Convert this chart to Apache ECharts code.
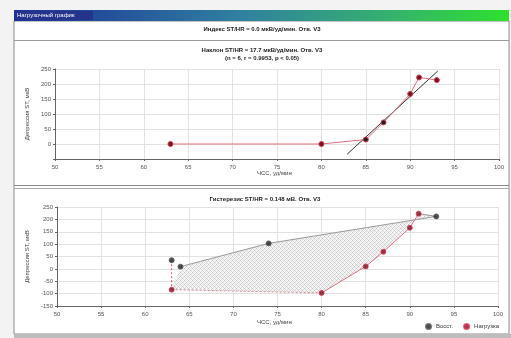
<!DOCTYPE html>
<html>
<head>
<meta charset="utf-8">
<script src="https://cdn.jsdelivr.net/npm/echarts@6/dist/echarts.min.js"></script>
<style>
html,body{margin:0;padding:0;background:#f3f3f3}
#c{width:511px;height:338px}
</style>
</head>
<body>
<div id="c"></div>
<script>
// верхний график - наклон ST/HR
var hrTop = [63, 80, 85, 87, 90, 91, 93];
var stTop = [0, 0, 15, 72, 167, 222, 213];
var phaseTop = [1, 1, 0, 0, 1, 1, 1]; // 1 - нагрузка, 0 - тёмная точка
var regHr = [82.9, 93.1];
var regSt = [-34, 243];

// нижний график - гистерезис
var hrLoad = [63, 80, 85, 87, 90, 91];
var stLoad = [-84, -97, 10, 69, 166, 223];
var hrRec = [93, 74, 64, 63];
var stRec = [212, 103, 9, 35];

var titles = ['Индекс ST/HR = 0.0 мкВ/уд/мин. Отв. V3',
              'Наклон ST/HR = 17.7 мкВ/уд/мин. Отв. V3',
              '(n = 6, r = 0.9953, p < 0.05)',
              'Гистерезис ST/HR = 0.148 мВ. Отв. V3'];

var FONT = 'Liberation Sans';
var myChart = echarts.init(document.getElementById('c'));

function pairs(xs, ys){
    var out = [];
    for (var i = 0; i < xs.length; i++) out.push([xs[i], ys[i]]);
    return out;
}

// штриховка для области гистерезиса
var hatch = document.createElement('canvas');
hatch.width = 4; hatch.height = 4;
var hc = hatch.getContext('2d');
hc.fillStyle = '#f4f4f4';
hc.fillRect(0, 0, 4, 4);
hc.fillStyle = '#c4c4c4';
hc.fillRect(0, 0, 1, 1);
hc.fillRect(2, 2, 1, 1);
hc.fillStyle = '#dcdcdc';
hc.fillRect(1, 1, 1, 1);
hc.fillRect(3, 3, 1, 1);
hc.fillRect(3, 1, 1, 1);
hc.fillRect(1, 3, 1, 1);

function xAx(idx){
    return {
        gridIndex: idx, type: 'value', min: 50, max: 100, interval: 5,
        axisLine: {show: true, onZero: false, lineStyle: {color: '#666'}},
        axisTick: {show: true, length: 2, lineStyle: {color: '#666'}},
        axisLabel: {fontSize: 6, color: '#555', margin: 5, fontFamily: FONT},
        splitLine: {show: true, lineStyle: {color: '#e2e2e2'}}
    };
}
function yAx(idx, mn, mx, gap, hideMin){
    return {
        gridIndex: idx, type: 'value', min: mn, max: mx, interval: 50,
        name: 'Депрессия ST, мкВ', nameLocation: 'middle', nameGap: gap,
        nameTextStyle: {fontSize: 6, color: '#444', fontFamily: FONT},
        axisLine: {show: true, lineStyle: {color: '#666'}},
        axisTick: {show: true, length: 2, lineStyle: {color: '#666'}},
        axisLabel: {fontSize: 6, color: '#555', margin: 4, fontFamily: FONT,
            formatter: function(v){ return (hideMin && v === mn) ? '' : v; }},
        splitLine: {show: true, lineStyle: {color: '#e2e2e2'}}
    };
}

var loadItem = {color: '#7a1020', borderColor: '#e03050', borderWidth: 1};
var recItem = {color: '#222', borderColor: '#555', borderWidth: 1};

var loadPts = pairs(hrLoad, stLoad);
var recPts = pairs(hrRec, stRec);

option = {
    animation: false,
    textStyle: {fontFamily: FONT},
    graphic: [
        // окно
        {type: 'rect', shape: {x: 14, y: 21, width: 495, height: 313}, style: {fill: '#fff', stroke: '#8a8a8a', lineWidth: 1}},
        {type: 'rect', shape: {x: 14, y: 10, width: 495, height: 11},
         style: {fill: new echarts.graphic.LinearGradient(0, 0, 1, 0, [
             {offset: 0, color: '#1c2f96'}, {offset: 0.45, color: '#2f7fa0'},
             {offset: 0.75, color: '#35b070'}, {offset: 1, color: '#2ee02e'}])}},
        {type: 'rect', shape: {x: 15, y: 11, width: 78, height: 9}, style: {fill: '#24338c'}},
        {type: 'text', left: 17, top: 12, style: {text: 'Нагрузочный график', fill: '#fff', font: '6px ' + FONT}},
        {type: 'line', shape: {x1: 14, y1: 40.5, x2: 509, y2: 40.5}, style: {stroke: '#9a9a9a', lineWidth: 1}},
        {type: 'line', shape: {x1: 14, y1: 185.5, x2: 509, y2: 185.5}, style: {stroke: '#888', lineWidth: 1}},
        {type: 'line', shape: {x1: 14, y1: 188.5, x2: 509, y2: 188.5}, style: {stroke: '#aaa', lineWidth: 1}},
        {type: 'rect', shape: {x: 14, y: 334, width: 497, height: 4}, style: {fill: '#bdbdbd'}},
        // заголовки
        {type: 'text', x: 262, y: 29, style: {text: titles[0], fill: '#222', font: 'bold 6px ' + FONT, align: 'center', verticalAlign: 'middle'}},
        {type: 'text', x: 262, y: 50, style: {text: titles[1], fill: '#222', font: 'bold 6px ' + FONT, align: 'center', verticalAlign: 'middle'}},
        {type: 'text', x: 262, y: 58, style: {text: titles[2], fill: '#222', font: 'bold 6px ' + FONT, align: 'center', verticalAlign: 'middle'}},
        {type: 'text', x: 265, y: 199, style: {text: titles[3], fill: '#222', font: 'bold 6px ' + FONT, align: 'center', verticalAlign: 'middle'}},
        {type: 'text', x: 257, y: 173, style: {text: 'ЧСС, уд/мин', fill: '#444', font: '6px ' + FONT, verticalAlign: 'middle'}},
        {type: 'text', x: 257, y: 322, style: {text: 'ЧСС, уд/мин', fill: '#444', font: '6px ' + FONT, verticalAlign: 'middle'}}
    ],
    grid: [
        {left: 55, top: 69, width: 444, height: 90, show: true, borderColor: '#707070', borderWidth: 1, backgroundColor: 'transparent'},
        {left: 57, top: 207, width: 441, height: 99, show: true, borderColor: '#707070', borderWidth: 1, backgroundColor: 'transparent'}
    ],
    xAxis: [xAx(0), xAx(1)],
    yAxis: [yAx(0, -50, 250, 20, true), yAx(1, -150, 250, 22, false)],
    legend: {
        data: ['Восст.', 'Нагрузка'], left: 420, top: 318, orient: 'horizontal',
        itemWidth: 5, itemHeight: 5, itemGap: 10, icon: 'circle',
        textStyle: {fontSize: 6, color: '#333', fontFamily: FONT}
    },
    series: [
        // верхний
        {
            type: 'line', xAxisIndex: 0, yAxisIndex: 0,
            data: pairs(hrTop, stTop), symbol: 'circle', symbolSize: 5,
            lineStyle: {color: '#e07080', width: 1},
            itemStyle: {color: function(p){ return phaseTop[p.dataIndex] ? '#7a1020' : '#222'; },
                        borderColor: '#d04050', borderWidth: 1},
            z: 3
        },
        {
            type: 'line', xAxisIndex: 0, yAxisIndex: 0,
            data: pairs(regHr, regSt), symbol: 'none',
            lineStyle: {color: '#333', width: 1}, z: 2
        },
        // нижний - заштрихованная область
        {
            type: 'custom', xAxisIndex: 1, yAxisIndex: 1, data: [0], z: 1,
            renderItem: function(params, api){
                var poly = loadPts.concat(recPts.slice(0, recPts.length - 1));
                var pts = poly.map(function(d){ return api.coord(d); });
                return {type: 'polygon', shape: {points: pts},
                        style: {fill: {image: hatch, repeat: 'repeat'}, stroke: null}};
            }
        },
        {
            type: 'line', xAxisIndex: 1, yAxisIndex: 1,
            data: loadPts.slice(0, 2), symbol: 'none',
            lineStyle: {color: '#d08a90', width: 1, type: [2, 2]}, z: 2
        },
        {
            type: 'line', xAxisIndex: 1, yAxisIndex: 1,
            data: loadPts.slice(1), symbol: 'none',
            lineStyle: {color: '#e07080', width: 1}, z: 2
        },
        {
            type: 'line', xAxisIndex: 1, yAxisIndex: 1,
            data: [loadPts[loadPts.length - 1]].concat(recPts.slice(0, recPts.length - 1)), symbol: 'none',
            lineStyle: {color: '#999', width: 1}, z: 2
        },
        {
            type: 'line', xAxisIndex: 1, yAxisIndex: 1,
            data: [recPts[recPts.length - 1], loadPts[0]], symbol: 'none',
            lineStyle: {color: '#d05060', width: 1, type: [2, 2]}, z: 2
        },
        {
            name: 'Нагрузка', type: 'scatter', xAxisIndex: 1, yAxisIndex: 1,
            data: loadPts, symbol: 'circle', symbolSize: 5, itemStyle: loadItem, z: 4
        },
        {
            name: 'Восст.', type: 'scatter', xAxisIndex: 1, yAxisIndex: 1,
            data: recPts, symbol: 'circle', symbolSize: 5, itemStyle: recItem, z: 4
        }
    ]
};
myChart.setOption(option);
</script>
</body>
</html>
